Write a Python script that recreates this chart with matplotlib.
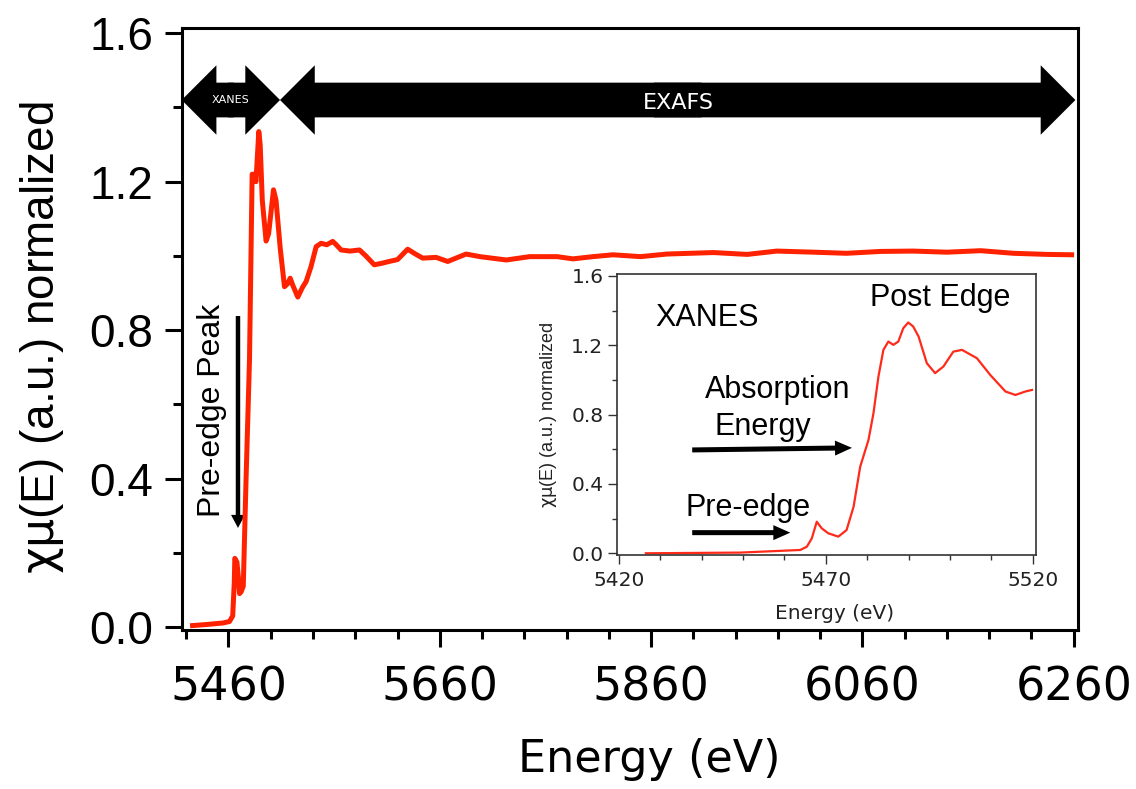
import matplotlib
matplotlib.use("Agg")
import matplotlib.pyplot as plt
from matplotlib.patches import FancyArrowPatch
from matplotlib.ticker import MultipleLocator
from matplotlib import font_manager

# espectro completo (XANES + EXAFS)
energy = [5426, 5440, 5455, 5461, 5464, 5465.5, 5466, 5468, 5469.5, 5470.5,
          5472, 5474, 5476.7, 5479.9, 5482.4, 5484, 5486, 5488.7, 5490, 5492,
          5495.6, 5498, 5502.6, 5505, 5509, 5513, 5516, 5518.4, 5521, 5525.6,
          5530, 5533.5, 5538, 5543, 5547.7, 5553, 5558.7, 5562, 5566.6, 5575,
          5584, 5590, 5598, 5605, 5612, 5620, 5629.6, 5637, 5643.8, 5656.5,
          5667.5, 5684.9, 5698, 5723, 5745, 5771, 5786, 5805, 5824, 5850,
          5875, 5919, 5951, 5979, 6014, 6045, 6077, 6108, 6140, 6172,
          6203, 6235, 6258]
mu_norm = [0.004, 0.007, 0.011, 0.015, 0.03, 0.12, 0.185, 0.175, 0.13, 0.09,
           0.095, 0.11, 0.405, 0.72, 1.22, 1.22, 1.20, 1.335, 1.30, 1.15,
           1.04, 1.06, 1.178, 1.15, 1.02, 0.917, 0.925, 0.94, 0.92, 0.889,
           0.915, 0.931, 0.97, 1.025, 1.034, 1.03, 1.039, 1.03, 1.016, 1.013,
           1.016, 1.00, 0.976, 0.98, 0.985, 0.99, 1.018, 1.005, 0.994, 0.996,
           0.985, 1.005, 0.998, 0.989, 0.998, 0.998, 0.992, 0.998, 1.003, 0.998,
           1.005, 1.009, 1.004, 1.013, 1.01, 1.007, 1.012, 1.013, 1.01, 1.014,
           1.007, 1.004, 1.003]

# detalhe da regiao XANES
xanes_energy = [5426.5, 5449.3, 5463.8, 5465.4, 5466.6, 5467.8, 5469, 5470.6,
                5473, 5475, 5476.7, 5478.3, 5480.3, 5481.5, 5482.7, 5483.9,
                5485.1, 5486.3, 5487.5, 5488.7, 5489.9, 5491.1, 5492.4, 5494.4,
                5496.4, 5498.4, 5500.8, 5502.9, 5506.5, 5509.7, 5513.4, 5515.8,
                5518.2, 5519.8]
xanes_mu = [0.0, 0.004, 0.019, 0.038, 0.086, 0.182, 0.144, 0.115,
            0.096, 0.134, 0.269, 0.5, 0.654, 0.808, 1.019, 1.173,
            1.221, 1.202, 1.221, 1.298, 1.331, 1.308, 1.25, 1.096,
            1.039, 1.077, 1.163, 1.173, 1.125, 1.029, 0.933, 0.913,
            0.933, 0.942]

# limites das regioes (setas no topo)
xanes_range = (5415.7, 5508.8)
exafs_range = (5508.8, 6261.6)

red = "#ff2200"
helv = "Liberation Sans"
names = {f.name for f in font_manager.fontManager.ttflist}
narrow = "Liberation Sans Narrow" if "Liberation Sans Narrow" in names else helv
ylab = r"$\mathrm{\chi\mu}$(E) (a.u.) normalized"


def seta(ax, p0, p1, tail, head_w, head_l, **kw):
    ax.add_patch(FancyArrowPatch(
        p0, p1,
        arrowstyle=f"simple,head_length={head_l},head_width={head_w},tail_width={tail}",
        mutation_scale=1, shrinkA=0, shrinkB=0, lw=0, color="black", **kw))


def seta_dupla(ax, x0, x1, y):
    mid = (x0 + x1) / 2
    d = (x1 - x0) * 0.03
    seta(ax, (mid + d, y), (x0, y), 25, 50, 25, clip_on=False)
    seta(ax, (mid - d, y), (x1, y), 25, 50, 25, clip_on=False)


fig = plt.figure(figsize=(11.36, 7.89), dpi=100)
ax = fig.add_axes([0.1602, 0.2015, 0.7887, 0.763])

ax.plot(energy, mu_norm, color=red, lw=3.6, solid_joinstyle="round")
ax.set_xlim(5416, 6264)
ax.set_ylim(-0.008, 1.614)

ax.xaxis.set_major_locator(MultipleLocator(200, offset=60))
ax.xaxis.set_minor_locator(MultipleLocator(40, offset=20))
ax.yaxis.set_major_locator(MultipleLocator(0.4))
ax.yaxis.set_minor_locator(MultipleLocator(0.2))
ax.tick_params(which="both", direction="out", width=2.2, color="black")
ax.tick_params(which="major", length=12.5)
ax.tick_params(which="minor", length=6.5)
ax.tick_params(axis="x", which="major", labelsize=33, pad=13)
ax.tick_params(axis="y", which="major", labelsize=33, pad=8)
ax.set_yticks(ax.get_yticks())
ax.set_yticklabels([f"{v:.1f}" for v in ax.get_yticks()], family=helv)
ax.set_ylim(-0.008, 1.614)
for s in ax.spines.values():
    s.set_linewidth(2.2)

ax.set_xlabel("Energy (eV)", fontsize=32)
ax.xaxis.set_label_coords(0.522, -0.18)
ax.set_ylabel(ylab, fontsize=33, family=helv)
ax.yaxis.set_label_coords(-0.13, 0.485)

# setas XANES / EXAFS
seta_dupla(ax, *xanes_range, 1.42)
seta_dupla(ax, *exafs_range, 1.42)
ax.text(sum(xanes_range) / 2, 1.42, "XANES", color="white", fontsize=8,
        ha="center", va="center")
ax.text(5885.7, 1.413, "EXAFS", color="white", fontsize=16,
        ha="center", va="center")

# pico de pre-borda
ax.text(5444.4, 0.585, "Pre-edge Peak", rotation=90, fontsize=23, family=helv,
        ha="center", va="center")
seta(ax, (5469, 0.838), (5469, 0.267), 3.2, 10, 9.4)

# grafico interno (XANES)
ins = fig.add_axes([0.5434, 0.297, 0.3683, 0.3558])
ins.plot(xanes_energy, xanes_mu, color="#ff2a1a", lw=1.6)
ins.set_xlim(5419.6, 5520.7)
ins.set_ylim(-0.008, 1.611)
ins.xaxis.set_major_locator(MultipleLocator(50, offset=20))
ins.xaxis.set_minor_locator(MultipleLocator(10))
ins.yaxis.set_major_locator(MultipleLocator(0.4))
ins.yaxis.set_minor_locator(MultipleLocator(0.2))
ins.tick_params(which="both", direction="out", width=1, color="#333333",
                labelsize=14.5, labelcolor="#222222")
ins.tick_params(which="major", length=6.5)
ins.tick_params(which="minor", length=3.5)
ins.tick_params(axis="y", pad=3.5)
ins.tick_params(axis="x", pad=5)
for s in ins.spines.values():
    s.set_linewidth(1.2)
    s.set_color("#333333")
ins.set_xlabel("Energy (eV)", fontsize=14.5, color="#222222")
ins.xaxis.set_label_coords(0.52, -0.175)
ins.set_ylabel(ylab, fontsize=13, family=narrow, color="#222222")
ins.yaxis.set_label_coords(-0.14, 0.498)

ins.text(5428.7, 1.357, "XANES", fontsize=22, family=helv, ha="left", va="center")
ins.text(5480.7, 1.473, "Post Edge", fontsize=22, family=helv, ha="left", va="center")
ins.text(5440.8, 0.943, "Absorption", fontsize=22, family=helv, ha="left", va="center")
ins.text(5443.2, 0.729, "Energy", fontsize=22, family=helv, ha="left", va="center")
ins.text(5436.1, 0.261, "Pre-edge", fontsize=22, family=helv, ha="left", va="center")
seta(ins, (5437.7, 0.596), (5476.3, 0.608), 3.6, 10.8, 12.2)
seta(ins, (5437.7, 0.119), (5461.4, 0.119), 3.6, 10.8, 12.2)

fig.savefig("out.png", dpi=100)
